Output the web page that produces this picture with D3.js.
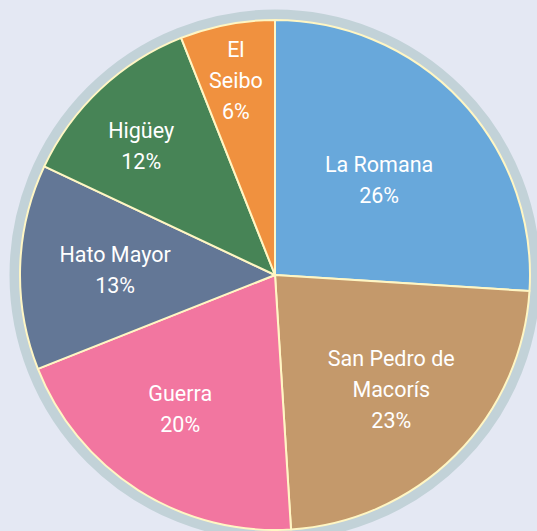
<!DOCTYPE html>
<html><head><meta charset="utf-8">
<script src="https://cdn.jsdelivr.net/npm/d3@7"></script>
<style>
html,body{margin:0;padding:0;background:#e4e8f3;}
svg{display:block;}
</style></head>
<body>
<svg id="chart" width="537" height="531"></svg>
<script>
const categories = ["La Romana", "San Pedro de Macorís", "Guerra", "Hato Mayor", "Higüey", "El Seibo"];
const values = [26, 23, 20, 13, 12, 6];
const labelLines = [["La Romana"], ["San Pedro de", "Macorís"], ["Guerra"], ["Hato Mayor"], ["Higüey"], ["El", "Seibo"]];
const colors = ["#68a8db", "#c4996b", "#f276a0", "#637796", "#478456", "#f0913f"];
// label placement: [angle offset (deg), radius]
const labelLayout = [[0.8, 141], [-0.5, 163], [2.9, 164], [0, 160], [-2.8, 186], [-0.6, 198]];

const cx = 275, cy = 275, R = 255;
const svg = d3.select("#chart");
const g = svg.append("g").attr("transform", `translate(${cx},${cy})`);

g.append("circle").attr("r", R + 5).attr("fill", "none")
  .attr("stroke", "#c2d2d8").attr("stroke-width", 11);

const pie = d3.pie().sort(null).value(d => d)(values);
const arc = d3.arc().innerRadius(0).outerRadius(R);

g.selectAll("path.slice").data(pie).enter().append("path")
  .attr("class", "slice")
  .attr("d", arc)
  .attr("fill", (d, i) => colors[i])
  .attr("stroke", "#fff6c4").attr("stroke-width", 2).attr("stroke-linejoin", "round");

const total = d3.sum(values);
const lineH = 31;
pie.forEach((d, i) => {
  const mid = (d.startAngle + d.endAngle) / 2 + labelLayout[i][0] * Math.PI / 180;
  const r = labelLayout[i][1];
  const x = r * Math.sin(mid), y = -r * Math.cos(mid);
  const lines = labelLines[i].concat([Math.round(values[i] / total * 100) + "%"]);
  const t = g.append("text").attr("text-anchor", "middle")
    .attr("font-family", "Roboto, sans-serif").attr("font-size", 21.5)
    .attr("fill", "#ffffff");
  const y0 = y - (lines.length - 1) * lineH / 2;
  lines.forEach((s, k) => {
    t.append("tspan").attr("x", x).attr("y", y0 + k * lineH).attr("dy", "0.35em").text(s);
  });
});
</script>
</body></html>
